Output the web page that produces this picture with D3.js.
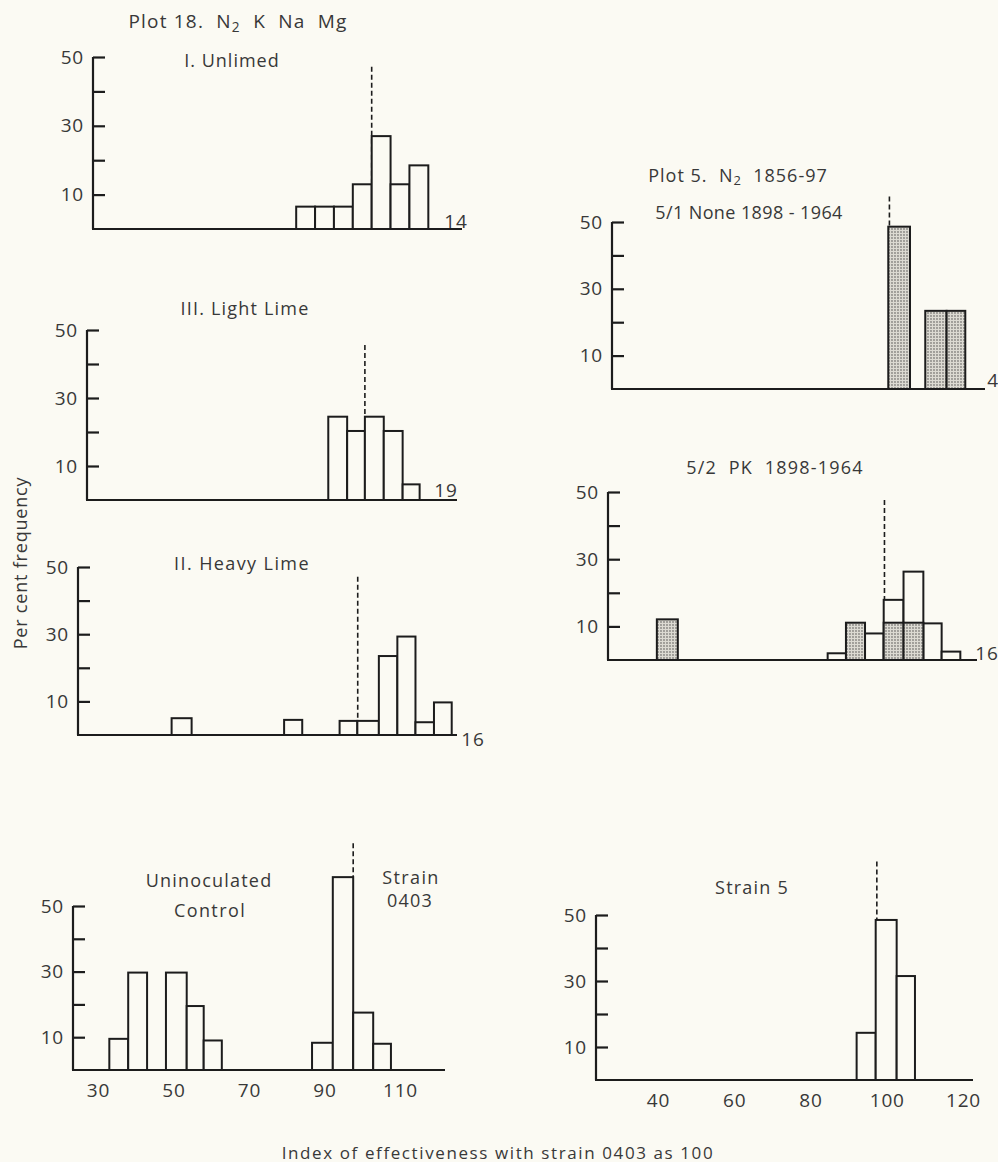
<!DOCTYPE html>
<html>
<head>
<meta charset="utf-8">
<script src="https://cdn.jsdelivr.net/npm/d3@7"></script>
<style>
  body { margin: 0; background: #fbfaf3; }
  svg { display: block; }
  text { font-family: "Open Sans", Lato, sans-serif; fill: #383838; white-space: pre; }
</style>
</head>
<body>
<div id="chart"></div>
<script>
// values (per cent frequency per bin, bin edges on the index scale)
const yTicks = [10, 20, 30, 40, 50];
const leftTickLabels = [30, 50, 70, 90, 110];
const rightTickLabels = [40, 60, 80, 100, 120];

const unlimedEdges = [82.5, 87.5, 92.5, 97.5, 102.5, 107.5, 112.5, 117.5];
const unlimedPct = [6.5, 6.5, 6.5, 13, 27, 13, 18.5];

const lightEdges = [91, 96, 100.7, 105.7, 110.7, 115.2];
const lightPct = [24.5, 20.3, 24.5, 20.3, 4.6];

const heavyEdges = [49.5, 54.8, 79.3, 84.1, 94, 98.7, 104.4, 109.3, 114.1, 119, 123.7];
const heavyPct = [5, 0, 4.5, 0, 4.2, 4.2, 23.5, 29.3, 3.8, 9.7];

const controlEdges = [33, 38, 43, 48, 53.5, 58, 62.8, 86.7, 92.2, 97.6, 102.9, 107.6];
const controlPct = [9.5, 29.7, 0, 29.7, 19.5, 9, 0, 8.3, 58.8, 17.5, 8];

const none51Edges = [100.4, 106.1, 110.1, 115.7, 120.6];
const none51Pct = [48.6, 0, 23.4, 23.4];

const pk52OpenEdges = [84.5, 89.3, 94.3, 99.2, 104.4, 109.6, 114.4, 119.3];
const pk52OpenPct = [2, 0, 7.9, 17.9, 26.3, 10.9, 2.5];
const pk52ShadedEdges = [39.7, 45.2, 89.3, 94.3, 99.2, 104.4, 109.6];
const pk52ShadedPct = [12.1, 0, 11.1, 0, 11.1, 11.1];

const strain5Edges = [92.1, 97.1, 102.6, 107.4];
const strain5Pct = [14.3, 48.5, 31.5];

// reference (dashed) lines: index position and the height they reach
const refX = [102.5, 100.7, 98.8, 97.6, 100.7, 99.4, 97.4];
const refTop = [47.2, 45.6, 47.1, 69.1, 57.6, 47.6, 66.2];
const sampleN = ["14", "19", "16", "", "4", "16", ""];

const width = 998, height = 1162;
const ink = "#1c1c1c";
const paper = "#fbfaf3";

const leftX = d3.scaleLinear().domain([30, 110]).range([98, 400]);
const rightX = d3.scaleLinear().domain([40, 120]).range([658, 963]);

const panels = [
  { x: leftX, axisX: 93, baseY: 229, topY: 57, endX: 462, bars: [[unlimedEdges, unlimedPct, false]], nPos: [456, 221] },
  { x: leftX, axisX: 87, baseY: 500, topY: 330, endX: 457, bars: [[lightEdges, lightPct, false]], nPos: [446, 490] },
  { x: leftX, axisX: 78, baseY: 735, topY: 567, endX: 457, bars: [[heavyEdges, heavyPct, false]], nPos: [473, 739] },
  { x: leftX, axisX: 73, baseY: 1070, topY: 906, endX: 445, bars: [[controlEdges, controlPct, false]], ticks: leftTickLabels },
  { x: rightX, axisX: 612, baseY: 389, topY: 222, endX: 985, bars: [[none51Edges, none51Pct, true]], nPos: [993, 380] },
  { x: rightX, axisX: 608, baseY: 660, topY: 492, endX: 977, bars: [[pk52OpenEdges, pk52OpenPct, false], [pk52ShadedEdges, pk52ShadedPct, true]], nPos: [987, 653] },
  { x: rightX, axisX: 596, baseY: 1080, topY: 915, endX: 973, bars: [[strain5Edges, strain5Pct, false]], ticks: rightTickLabels }
];

const svg = d3.select("#chart").append("svg")
  .attr("width", width)
  .attr("height", height);

svg.append("rect").attr("width", width).attr("height", height).attr("fill", paper);

// stippled fill
const pat = svg.append("defs").append("pattern")
  .attr("id", "stipple")
  .attr("patternUnits", "userSpaceOnUse")
  .attr("width", 3).attr("height", 3);
pat.append("rect").attr("width", 3).attr("height", 3).attr("fill", "#dcdad2");
pat.append("circle").attr("cx", 1).attr("cy", 1).attr("r", 0.9).attr("fill", "#858480");

const numFont = sel => sel.attr("font-size", 19).attr("fill", "#383838")
  .attr("letter-spacing", 0.8)
  .style("font-family", "'Open Sans', sans-serif");

panels.forEach((p, i) => {
  const y = d3.scaleLinear().domain([0, 50]).range([p.baseY, p.topY]);
  const g = svg.append("g");

  // dashed reference line
  g.append("line")
    .attr("x1", p.x(refX[i])).attr("x2", p.x(refX[i]))
    .attr("y1", y(refTop[i])).attr("y2", p.baseY)
    .attr("stroke", ink).attr("stroke-width", 1.6)
    .attr("stroke-dasharray", "5,3");

  // bars
  p.bars.forEach(([edges, pct, shaded]) => {
    const bins = pct.map((v, k) => ({ x0: edges[k], x1: edges[k + 1], v })).filter(d => d.v > 0);
    g.append("g").selectAll("rect")
      .data(bins)
      .join("rect")
      .attr("x", d => p.x(d.x0))
      .attr("width", d => p.x(d.x1) - p.x(d.x0))
      .attr("y", d => y(d.v))
      .attr("height", d => p.baseY - y(d.v))
      .attr("fill", shaded ? "url(#stipple)" : paper)
      .attr("stroke", ink)
      .attr("stroke-width", 2);
  });

  // y axis, ticks pointing inwards
  const ya = g.append("g")
    .attr("transform", `translate(${p.axisX},0)`)
    .call(d3.axisLeft(y).tickValues(yTicks).tickSize(-12).tickSizeOuter(0).tickPadding(9)
      .tickFormat(d => d % 20 === 10 ? d : ""));
  ya.selectAll("path, line").attr("stroke", ink).attr("stroke-width", 2.2);
  ya.select(".domain").attr("d", `M0,${p.baseY}V${p.topY}`);
  ya.selectAll("text").call(numFont);

  // baseline
  g.append("line")
    .attr("x1", p.axisX - 1).attr("x2", p.endX)
    .attr("y1", p.baseY).attr("y2", p.baseY)
    .attr("stroke", ink).attr("stroke-width", 2.2);

  if (p.ticks) {
    const xa = g.append("g")
      .attr("transform", `translate(0,${p.baseY})`)
      .call(d3.axisBottom(p.x).tickValues(p.ticks).tickSize(0).tickPadding(14));
    xa.select(".domain").remove();
    xa.selectAll("text").call(numFont);
  }

  if (sampleN[i]) {
    g.append("text")
      .attr("x", p.nPos[0]).attr("y", p.nPos[1])
      .attr("text-anchor", "middle").attr("dominant-baseline", "central")
      .call(numFont)
      .text(sampleN[i]);
  }
});

// titles; a part written as ["2"] is set as a subscript
function label(x, y, parts, size, spacing) {
  const t = svg.append("text")
    .attr("x", x).attr("y", y)
    .attr("text-anchor", "middle").attr("dominant-baseline", "central")
    .attr("font-size", size)
    .attr("letter-spacing", spacing);
  let shift = 0;
  parts.forEach(s => {
    const sub = Array.isArray(s);
    const span = t.append("tspan").text(sub ? s[0] : s);
    const want = sub ? 5 : 0;
    if (want !== shift) span.attr("dy", want - shift);
    if (sub) span.attr("font-size", size * 0.72);
    shift = want;
  });
  return t;
}

label(238, 21, ["Plot 18.  N", ["2"], "  K  Na  Mg"], 19, 1.2);
label(232, 60, ["I. Unlimed"], 18, 1);
label(245, 308, ["III. Light Lime"], 18, 1.2);
label(242, 563, ["II. Heavy Lime"], 18, 1.4);
label(738, 175, ["Plot 5.  N", ["2"], "  1856-97"], 18, 1);
label(749, 212, ["5/1 None 1898 - 1964"], 18, 0.4);
label(775, 467, ["5/2  PK  1898-1964"], 18, 1.2);
label(209, 880, ["Uninoculated"], 18, 1.2);
label(210, 910, ["Control"], 18, 1.4);
label(411, 877, ["Strain"], 18, 1.4);
label(410, 900, ["0403"], 18, 1.2);
label(752, 887, ["Strain 5"], 18, 1.2);
label(498, 1152, ["Index of effectiveness with strain 0403 as 100"], 17, 1.6);

svg.append("text")
  .attr("transform", "translate(20,563) rotate(-90)")
  .attr("text-anchor", "middle").attr("dominant-baseline", "central")
  .attr("font-size", 18)
  .attr("letter-spacing", 0.8)
  .text("Per cent frequency");
</script>
</body>
</html>
